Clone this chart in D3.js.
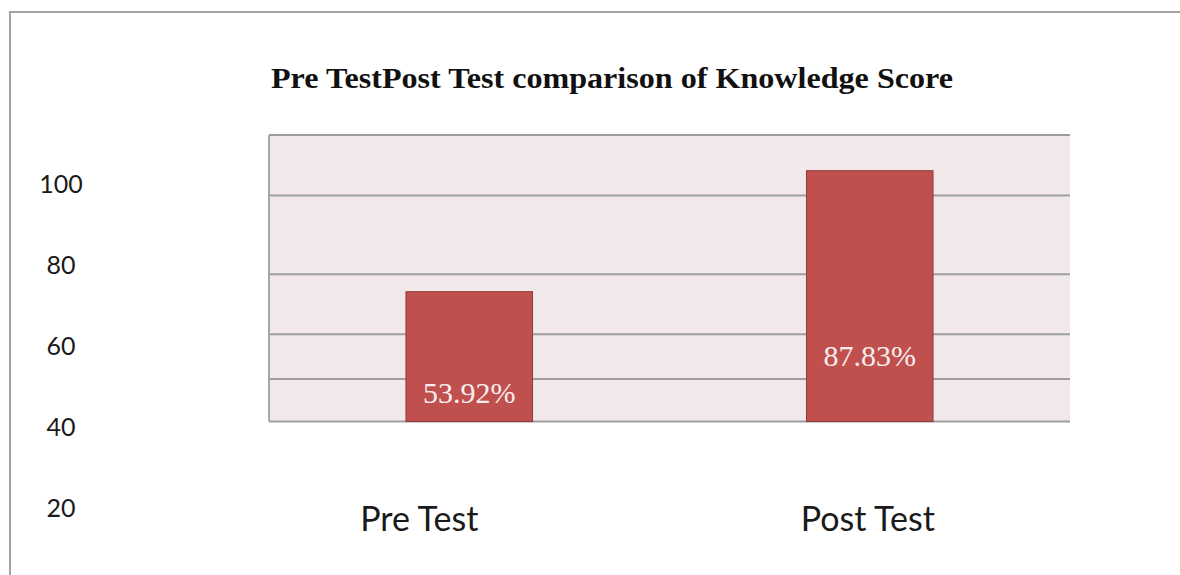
<!DOCTYPE html>
<html>
<head>
<meta charset="utf-8">
<script src="https://cdn.jsdelivr.net/npm/d3@7"></script>
<style>
  html, body { margin: 0; padding: 0; background: #ffffff; }
  svg { display: block; }
</style>
</head>
<body>
<svg id="chart" width="1180" height="575"></svg>
<script>
// ---- data ----
const categories = ["Pre Test", "Post Test"];
const values = [53.92, 87.83];
const valueLabels = ["53.92%", "87.83%"];
const yTickLabels = [100, 80, 60, 40, 20];
const gridValues = [97.84, 80.9, 58.8, 41.98, 29.45];
const titleText = "Pre TestPost Test comparison of Knowledge Score";

// ---- layout ----
const W = 1180, H = 575;
const plot = { left: 269, right: 1070, top: 135, bottom: 421.5 };

const svg = d3.select("#chart");

// outer frame (only top and left visible)
svg.append("path")
  .attr("d", `M10,${H + 5} V12 H${W + 5}`)
  .attr("fill", "none")
  .attr("stroke", "#a3a3a3")
  .attr("stroke-width", 2);

// scales
const x = d3.scaleBand()
  .domain(categories)
  .range([plot.left, plot.right])
  .paddingInner(0.684)
  .paddingOuter(0.342);

const y = d3.scaleLinear()
  .domain([17.54, 97.84])
  .range([plot.bottom, plot.top]);

// y label scale (labels are placed independently of the grid)
const yLab = d3.scaleLinear()
  .domain([20, 100])
  .range([517, 193]);

// plot background
svg.append("rect")
  .attr("x", plot.left)
  .attr("y", plot.top)
  .attr("width", plot.right - plot.left)
  .attr("height", plot.bottom - plot.top)
  .attr("fill", "#f2e8e9");

// gridlines
svg.append("g")
  .selectAll("line")
  .data(gridValues)
  .join("line")
  .attr("x1", plot.left)
  .attr("x2", plot.right)
  .attr("y1", d => y(d))
  .attr("y2", d => y(d))
  .attr("stroke", "#9e9e9e")
  .attr("stroke-width", 2);

// baseline
svg.append("line")
  .attr("x1", plot.left).attr("x2", plot.right)
  .attr("y1", y(y.domain()[0])).attr("y2", y(y.domain()[0]))
  .attr("stroke", "#9e9e9e").attr("stroke-width", 2);

// left plot edge
svg.append("line")
  .attr("x1", plot.left).attr("x2", plot.left)
  .attr("y1", plot.top).attr("y2", plot.bottom)
  .attr("stroke", "#a8a8a8").attr("stroke-width", 2);

// bars
svg.append("g")
  .selectAll("rect")
  .data(values)
  .join("rect")
  .attr("x", (d, i) => x(categories[i]))
  .attr("y", d => y(d))
  .attr("width", x.bandwidth())
  .attr("height", d => y(y.domain()[0]) - y(d))
  .attr("fill", "#c0504d")
  .attr("stroke", "#8f3b39")
  .attr("stroke-width", 1);

// data labels
svg.append("g")
  .selectAll("text")
  .data(valueLabels)
  .join("text")
  .attr("x", (d, i) => x(categories[i]) + x.bandwidth() / 2)
  .attr("y", (d, i) => y(y.domain()[0]) - (i === 0 ? 18.5 : 55.5))
  .attr("text-anchor", "middle")
  .attr("font-family", "'Liberation Serif', 'Times New Roman', serif")
  .attr("font-size", 30)
  .attr("fill", "#f7eded")
  .text(d => d);

// y tick labels
svg.append("g")
  .selectAll("text")
  .data(yTickLabels)
  .join("text")
  .attr("x", 61)
  .attr("y", d => yLab(d))
  .attr("text-anchor", "middle")
  .attr("font-family", "Lato, 'Open Sans', sans-serif")
  .attr("font-size", 25)
  .attr("fill", "#1a1a1a")
  .text(d => d);

// category labels
svg.append("g")
  .selectAll("text")
  .data(categories)
  .join("text")
  .attr("x", (d, i) => x(d) + x.bandwidth() / 2 + (i === 0 ? -50 : -2))
  .attr("y", 531)
  .attr("text-anchor", "middle")
  .attr("font-family", "Lato, 'Open Sans', sans-serif")
  .attr("font-size", 34)
  .attr("fill", "#1a1a1a")
  .text(d => d);

// title
svg.append("text")
  .attr("x", 271)
  .attr("y", 88)
  .attr("font-family", "'Liberation Serif', 'Times New Roman', serif")
  .attr("font-weight", "bold")
  .attr("font-size", 30)
  .attr("textLength", 682)
  .attr("lengthAdjust", "spacingAndGlyphs")
  .attr("fill", "#111111")
  .text(titleText);
</script>
</body>
</html>
